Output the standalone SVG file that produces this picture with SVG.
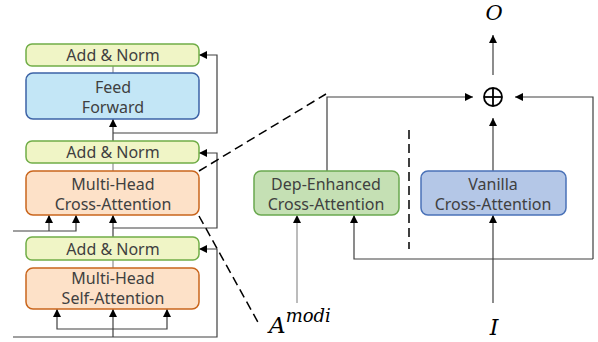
<svg xmlns="http://www.w3.org/2000/svg" width="598" height="342" viewBox="0 0 598 342">
  <defs>
    <marker id="arrow" markerUnits="userSpaceOnUse" markerWidth="9" markerHeight="9" refX="8" refY="4" orient="auto">
      <path d="M0,0 L8,4 L0,8 z" fill="#000"/>
    </marker>
    <style>
      .box { stroke-width: 1.5; }
      .norm { fill: #f0f5c6; stroke: #70ad47; }
      .ff { fill: #c3e6f6; stroke: #3d63a6; }
      .attn { fill: #fde1c8; stroke: #c9651c; }
      .dep { fill: #c5e0b4; stroke: #6aa84f; }
      .van { fill: #b4c7e7; stroke: #4a72b8; }
      .lbl { font-family: "Noto Sans", "Open Sans", sans-serif; font-size: 16px; fill: #404040; text-anchor: middle; }
      .math { font-family: "DejaVu Serif", "Liberation Serif", serif; font-style: italic; fill: #000; }
      .ln { fill: none; stroke: #404040; stroke-width: 1.2; }
      .lt { fill: none; stroke: #a6a6a6; stroke-width: 1.5; }
      .dash { fill: none; stroke: #000; stroke-width: 1.5; stroke-dasharray: 9 5; }
    </style>
  </defs>

  <!-- connectors -->
  <g id="connectors">
    <!-- thin links between stacked boxes -->
    <line class="lt" x1="113" y1="66" x2="113" y2="73"/>
    <line class="lt" x1="113" y1="163" x2="113" y2="171"/>
    <line class="lt" x1="113" y1="260" x2="113" y2="268"/>

    <!-- feed forward input and residual -->
    <line class="ln" x1="113" y1="141" x2="113" y2="119" marker-end="url(#arrow)"/>
    <polyline class="ln" points="113,133 217,133 217,55 199,55" marker-end="url(#arrow)"/>

    <!-- cross-attention inputs and residual -->
    <polyline class="ln" points="13,231 76,231 76,215" marker-end="url(#arrow)"/>
    <line class="ln" x1="49" y1="231" x2="49" y2="215" marker-end="url(#arrow)"/>
    <line class="ln" x1="113" y1="237" x2="113" y2="215" marker-end="url(#arrow)"/>
    <polyline class="ln" points="113,228 217,228 217,153 199,153" marker-end="url(#arrow)"/>

    <!-- self-attention inputs and residual -->
    <line class="ln" x1="113" y1="337" x2="113" y2="309" marker-end="url(#arrow)"/>
    <polyline class="ln" points="113,329 57,329 57,309" marker-end="url(#arrow)"/>
    <polyline class="ln" points="113,329 167,329 167,309" marker-end="url(#arrow)"/>
    <polyline class="ln" points="13,337 217,337 217,249 199,249" marker-end="url(#arrow)"/>

    <!-- zoom-out dashes -->
    <line class="dash" x1="199" y1="171" x2="326" y2="94"/>
    <line class="dash" x1="199" y1="216" x2="259" y2="324"/>
    <line class="dash" x1="409" y1="130" x2="409" y2="249"/>

    <!-- right-hand detail -->
    <polyline class="ln" points="327,171 327,97 473,97" marker-end="url(#arrow)"/>
    <polyline class="ln" points="493,171 493,118" marker-end="url(#arrow)"/>
    <line class="ln" x1="493" y1="75" x2="493" y2="35" marker-end="url(#arrow)"/>
    <polyline class="ln" points="593,259 593,97 515,97" marker-end="url(#arrow)"/>
    <polyline class="ln" points="593,259 354,259 354,215" marker-end="url(#arrow)"/>
    <line class="ln" x1="493" y1="303" x2="493" y2="215" marker-end="url(#arrow)"/>
    <line class="lt" x1="297" y1="303" x2="297" y2="222"/>
    <path d="M293,223 L297,215 L301,223 z" fill="#000"/>
  </g>

  <!-- decoder stack -->
  <g id="addnorm-top">
    <rect class="box norm" x="26" y="44" width="173" height="22" rx="6"/>
    <text class="lbl" x="113" y="61">Add &amp; Norm</text>
  </g>
  <g id="feed-forward">
    <rect class="box ff" x="26" y="73" width="173" height="46" rx="7"/>
    <text class="lbl" x="113" y="92.5">Feed</text>
    <text class="lbl" x="113" y="112.5">Forward</text>
  </g>
  <g id="addnorm-mid">
    <rect class="box norm" x="26" y="141" width="173" height="22" rx="6"/>
    <text class="lbl" x="113" y="158">Add &amp; Norm</text>
  </g>
  <g id="cross-attention">
    <rect class="box attn" x="26" y="171" width="173" height="44" rx="7"/>
    <text class="lbl" x="113" y="189.5">Multi-Head</text>
    <text class="lbl" x="113" y="209.5">Cross-Attention</text>
  </g>
  <g id="addnorm-low">
    <rect class="box norm" x="26" y="237" width="173" height="23" rx="6"/>
    <text class="lbl" x="113" y="254.5">Add &amp; Norm</text>
  </g>
  <g id="self-attention">
    <rect class="box attn" x="26" y="268" width="173" height="41" rx="7"/>
    <text class="lbl" x="113" y="283.5">Multi-Head</text>
    <text class="lbl" x="113" y="303.5">Self-Attention</text>
  </g>

  <!-- expanded cross-attention -->
  <g id="dep-enhanced">
    <rect class="box dep" x="254" y="171" width="145" height="44" rx="7"/>
    <text class="lbl" x="326" y="189.5">Dep-Enhanced</text>
    <text class="lbl" x="326" y="209.5">Cross-Attention</text>
  </g>
  <g id="vanilla">
    <rect class="box van" x="421" y="171" width="145" height="44" rx="7"/>
    <text class="lbl" x="493" y="189.5">Vanilla</text>
    <text class="lbl" x="493" y="209.5">Cross-Attention</text>
  </g>
  <g id="sum">
    <circle cx="493" cy="97" r="9" fill="none" stroke="#000" stroke-width="1.8"/>
    <line x1="484" y1="97" x2="502" y2="97" stroke="#000" stroke-width="1.8"/>
    <line x1="493" y1="88" x2="493" y2="106" stroke="#000" stroke-width="1.8"/>
  </g>
  <g id="output">
    <text class="math" x="494" y="20" font-size="21" text-anchor="middle">O</text>
  </g>
  <g id="input-a">
    <text class="math" x="269" y="333" font-size="23">A<tspan font-size="18" dy="-11">modi</tspan></text>
  </g>
  <g id="input-i">
    <text class="math" x="494" y="335" font-size="22" text-anchor="middle">I</text>
  </g>
</svg>
